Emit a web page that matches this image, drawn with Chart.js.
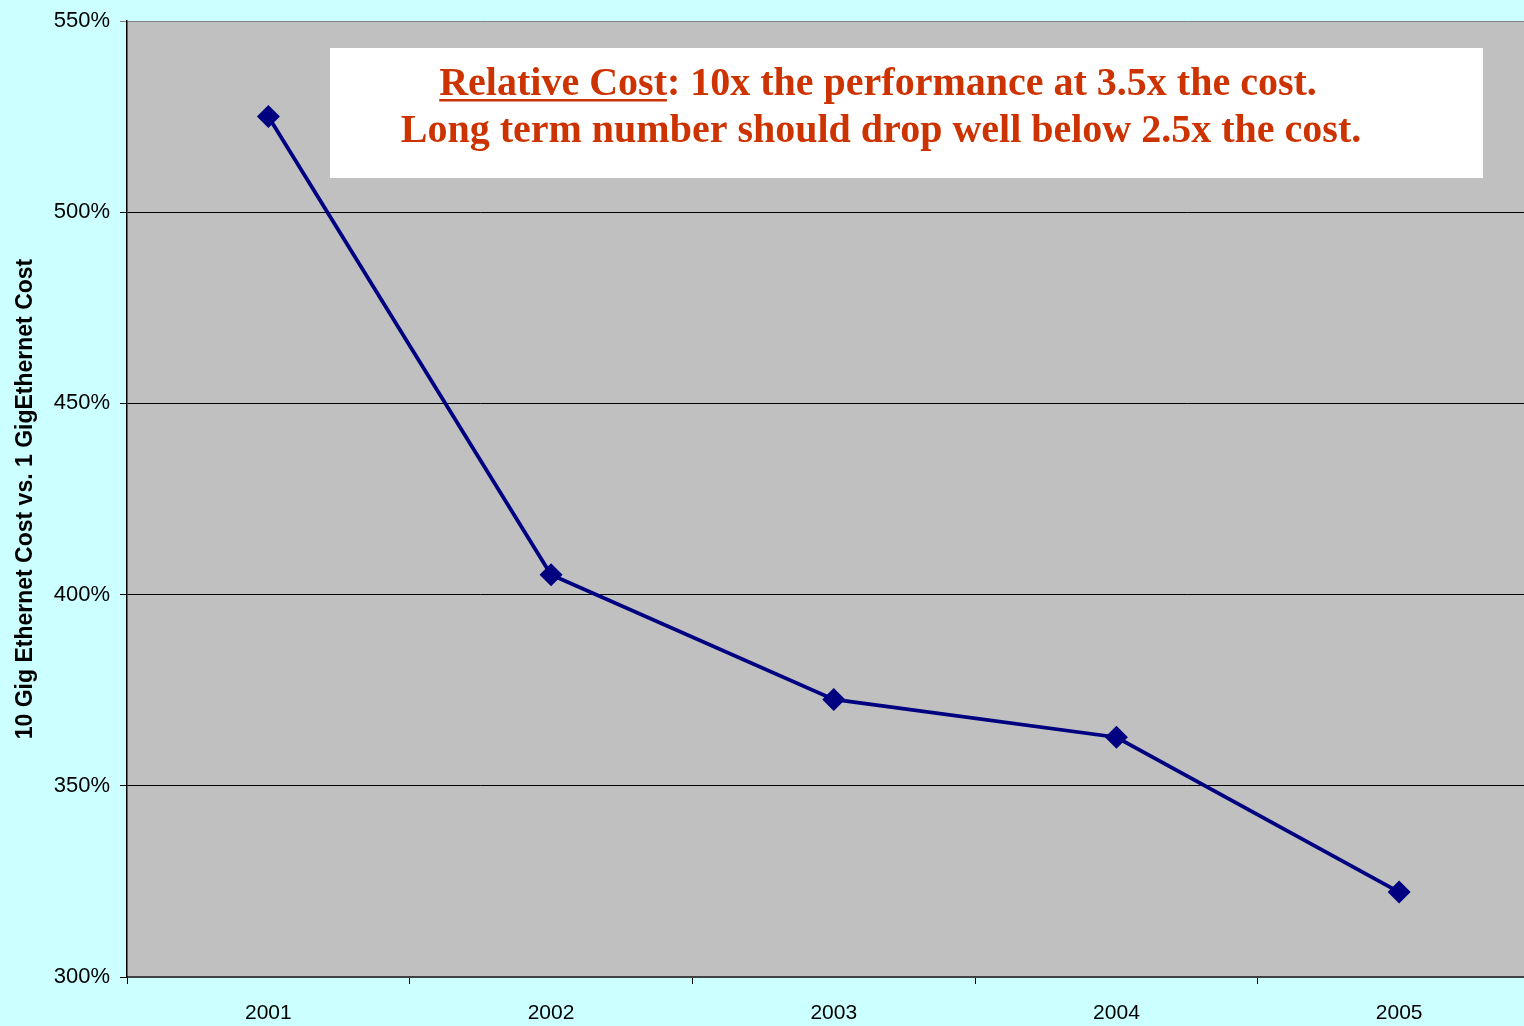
<!DOCTYPE html>
<html>
<head>
<meta charset="utf-8">
<script src="https://cdn.jsdelivr.net/npm/chart.js@4/dist/chart.umd.min.js"></script>
<style>
  html, body { margin: 0; padding: 0; background: #CCFFFF; overflow: hidden; }
  canvas { display: block; }
</style>
</head>
<body>
<canvas id="costChart" width="1552" height="1026"></canvas>
<script>
// ===== Data =====
const years = ["2001", "2002", "2003", "2004", "2005"];
const relativeCost = [525, 405.2, 372.6, 362.7, 322.2];

const yMin = 300;
const yMax = 550;
const yStep = 50;

const noteLine1Underlined = "Relative Cost";
const noteLine1Rest = ": 10x the performance at 3.5x the cost.";
const noteLine2 = "Long term number should drop well below 2.5x the cost.";

// Gray plot area
const plotBackground = {
  id: "plotBackground",
  beforeDraw(chart) {
    const { ctx, chartArea: a } = chart;
    ctx.save();
    ctx.fillStyle = "#C0C0C0";
    ctx.fillRect(a.left, a.top, a.right - a.left, a.bottom - a.top);
    ctx.restore();
  }
};

// White note box with red text
const noteBox = {
  id: "noteBox",
  afterDatasetsDraw(chart) {
    const { ctx, chartArea: a } = chart;
    const left = a.left + 203, top = a.top + 27, w = 1153, h = 130;
    ctx.save();
    ctx.fillStyle = "#FFFFFF";
    ctx.fillRect(left, top, w, h);

    ctx.font = "bold 40px 'Liberation Serif', 'Times New Roman', serif";
    ctx.fillStyle = "#CC3300";
    ctx.textBaseline = "alphabetic";
    ctx.textAlign = "left";

    const cx = left + 548;
    const w1 = ctx.measureText(noteLine1Underlined).width;
    const w2 = ctx.measureText(noteLine1Rest).width;
    const x1 = cx - (w1 + w2) / 2;
    const y1 = top + 47;
    ctx.fillText(noteLine1Underlined, x1, y1);
    ctx.fillText(noteLine1Rest, x1 + w1, y1);
    ctx.fillRect(x1, y1 + 4, w1, 2.5);

    ctx.textAlign = "center";
    ctx.fillText(noteLine2, cx + 3, top + 94);
    ctx.restore();
  }
};

new Chart(document.getElementById("costChart"), {
  type: "line",
  data: {
    labels: years,
    datasets: [{
      data: relativeCost,
      borderColor: "#000080",
      backgroundColor: "#000080",
      borderWidth: 3.8,
      pointStyle: "rectRot",
      pointRadius: 11.5,
      pointBorderWidth: 0,
      tension: 0,
      fill: false
    }]
  },
  options: {
    responsive: false,
    animation: false,
    layout: { padding: { top: 20, right: 0, left: 0, bottom: 0 } },
    plugins: { legend: { display: false }, tooltip: { enabled: false } },
    scales: {
      x: {
        offset: true,
        grid: {
          offset: true,
          drawOnChartArea: false,
          drawTicks: true,
          tickLength: 7,
          color: "#000000"
        },
        border: { color: "#404040", width: 2 },
        ticks: {
          color: "#000000",
          padding: 17,
          maxRotation: 0,
          font: { family: "'Liberation Sans', Arial, sans-serif", size: 21 }
        },
        afterFit(scale) { scale.height = 49; }
      },
      y: {
        min: yMin,
        max: yMax,
        grid: {
          color: (c) => c.tick && c.tick.value === yMax ? "#808080" : "#000000",
          lineWidth: 1,
          tickLength: 7
        },
        border: { color: "#000000", width: 1.5 },
        ticks: {
          stepSize: yStep,
          color: "#000000",
          padding: 10,
          font: { family: "'Liberation Sans', Arial, sans-serif", size: 22, lineHeight: 1 },
          callback: (v) => v + "%"
        },
        title: {
          display: true,
          text: "10 Gig Ethernet Cost vs. 1 GigEthernet Cost",
          color: "#000000",
          padding: { top: 12, bottom: 0 },
          font: { family: "'Liberation Sans', Arial, sans-serif", size: 23, weight: "bold" }
        },
        afterFit(scale) { scale.width = 127; }
      }
    }
  },
  plugins: [plotBackground, noteBox]
});
</script>
</body>
</html>
